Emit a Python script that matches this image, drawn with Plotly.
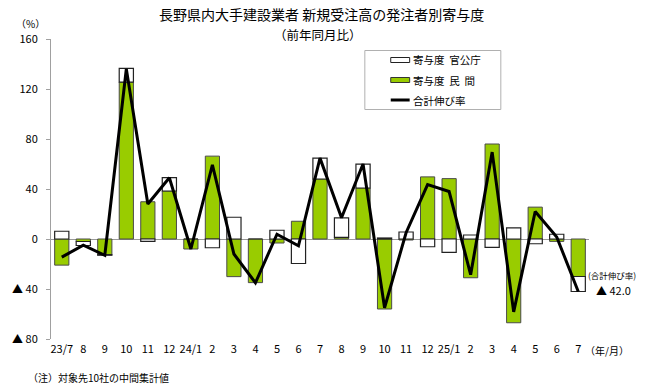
import plotly.graph_objects as go

# ---- data ----
months = ["23/7", "8", "9", "10", "11", "12", "24/1", "2", "3", "4", "5", "6", "7",
          "8 ", "9 ", "10 ", "11 ", "12 ", "25/1", "2 ", "3 ", "4 ", "5 ", "6 ", "7 "]
month_labels = ["23/7", "8", "9", "10", "11", "12", "24/1", "2", "3", "4", "5", "6", "7",
                "8", "9", "10", "11", "12", "25/1", "2", "3", "4", "5", "6", "7"]
private_contrib = [-20.9, -2.0, -12.5, 125.5, 29.8, 38.4, -8.0, 66.3, -30.1, -34.9, -3.2, 14.2, 48.0,
                   1.3, 40.8, -56.0, -0.8, 49.7, 48.3, -31.0, 76.0, -67.0, 25.5, -1.9, -30.0]
public_contrib = [6.2, -3.2, -0.5, 11.0, -1.9, 10.7, 0.0, -7.0, 17.4, 0.0, 7.0, -19.6, 16.7,
                  15.6, 19.1, 0.8, 5.6, -6.2, -10.7, 3.2, -6.7, 8.9, -3.8, 3.8, -12.0]
total_growth = [-14.5, -5.0, -13.0, 136.0, 28.0, 49.0, -8.0, 59.3, -12.0, -35.0, 3.8, -5.5, 64.7,
                17.0, 60.0, -55.0, 5.0, 43.5, 38.0, -28.5, 69.5, -58.3, 22.0, 1.6, -42.0]
y_tickvals = [-80, -40, 0, 40, 80, 120, 160]
y_ticktext = ["▲ 80", "▲ 40", "0", "40", "80", "120", "160"]

FONT = "Noto Sans CJK JP"
GREEN = "#99CC00"

fig = go.Figure()
fig.add_trace(go.Bar(x=months, y=private_contrib, name="寄与度 民 間",
                     marker=dict(color=GREEN, line=dict(color="#4a4a4a", width=1)),
                     width=0.66))
fig.add_trace(go.Bar(x=months, y=public_contrib, name="寄与度 官公庁",
                     marker=dict(color="#ffffff", line=dict(color="#222222", width=1.2)),
                     width=0.66))
fig.add_trace(go.Scatter(x=months, y=total_growth, name="合計伸び率", mode="lines",
                         line=dict(color="#000000", width=3)))

L, R, T, B = 49, 60, 39, 48
W, H = 649, 387
PW, PH = W - L - R, H - T - B


def px(x):
    return (x - L) / PW


def py(y):
    return (H - B - y) / PH


shapes = []
annotations = []

# legend box (manual)
shapes.append(dict(type="rect", xref="paper", yref="paper",
                   x0=px(364), x1=px(500.5), y0=py(109.5), y1=py(50.5),
                   line=dict(color="#b0b0b0", width=1), fillcolor="white"))
shapes.append(dict(type="rect", xref="paper", yref="paper",
                   x0=px(390), x1=px(409), y0=py(62.5), y1=py(57.5),
                   line=dict(color="#222222", width=1), fillcolor="white"))
shapes.append(dict(type="rect", xref="paper", yref="paper",
                   x0=px(390), x1=px(409), y0=py(82.5), y1=py(77.5),
                   line=dict(color="#333333", width=1), fillcolor=GREEN))
shapes.append(dict(type="line", xref="paper", yref="paper",
                   x0=px(390), x1=px(409), y0=py(100), y1=py(100),
                   line=dict(color="#000000", width=3)))
for txt, yy in [("寄与度  官公庁", 60), ("寄与度  民  間", 80), ("合計伸び率", 100)]:
    annotations.append(dict(text=txt, xref="paper", yref="paper", x=px(410.5), y=py(yy),
                            xanchor="left", yanchor="middle", showarrow=False,
                            font=dict(family=FONT, size=10.5, color="#000")))

# titles and notes
annotations.append(dict(text="長野県内大手建設業者 新規受注高の発注者別寄与度", xref="paper", yref="paper",
                        x=px(321), y=py(14), xanchor="center", yanchor="middle", showarrow=False,
                        font=dict(family=FONT, size=14, color="#000")))
annotations.append(dict(text="（前年同月比）", xref="paper", yref="paper",
                        x=px(317), y=py(34), xanchor="center", yanchor="middle", showarrow=False,
                        font=dict(family=FONT, size=12.5, color="#000")))
annotations.append(dict(text="（%）", xref="paper", yref="paper",
                        x=px(28), y=py(23), xanchor="center", yanchor="middle", showarrow=False,
                        font=dict(family=FONT, size=10, color="#000")))
annotations.append(dict(text="（年/月）", xref="paper", yref="paper",
                        x=px(607), y=py(350), xanchor="center", yanchor="middle", showarrow=False,
                        font=dict(family=FONT, size=10, color="#000")))
annotations.append(dict(text="（注）対象先10社の中間集計値", xref="paper", yref="paper",
                        x=px(24), y=py(377), xanchor="left", yanchor="middle", showarrow=False,
                        font=dict(family=FONT, size=10, color="#000")))
annotations.append(dict(text="(合計伸び率)", xref="paper", yref="paper",
                        x=px(612), y=py(275), xanchor="center", yanchor="middle", showarrow=False,
                        font=dict(family=FONT, size=8.5, color="#000")))
annotations.append(dict(text="▲ 42.0", xref="paper", yref="paper",
                        x=px(614), y=py(290), xanchor="center", yanchor="middle", showarrow=False,
                        font=dict(family=FONT, size=11, color="#000")))

fig.update_layout(
    width=W, height=H,
    margin=dict(l=L, r=R, t=T, b=B),
    barmode="relative",
    bargap=0.34,
    showlegend=False,
    plot_bgcolor="white", paper_bgcolor="white",
    font=dict(family=FONT, size=11, color="#000"),
    shapes=shapes,
    annotations=annotations,
    xaxis=dict(type="category", tickmode="array", tickvals=months, ticktext=month_labels,
               range=[-0.5, 24.5], showline=False, showgrid=False, zeroline=False,
               ticks="", tickfont=dict(size=11), ticklabelstandoff=2),
    yaxis=dict(range=[-80, 160], tickvals=y_tickvals, ticktext=y_ticktext,
               showgrid=False, zeroline=True, zerolinecolor="#9a9a9a", zerolinewidth=1,
               showline=True, linecolor="#a0a0a0", linewidth=1,
               ticks="outside", ticklen=4, tickcolor="#a0a0a0",
               tickfont=dict(size=11), ticklabelstandoff=6),
)

fig.write_html("out.html", config={"displayModeBar": False},
               post_script="document.body.style.margin='0px';document.body.style.overflow='hidden';")
